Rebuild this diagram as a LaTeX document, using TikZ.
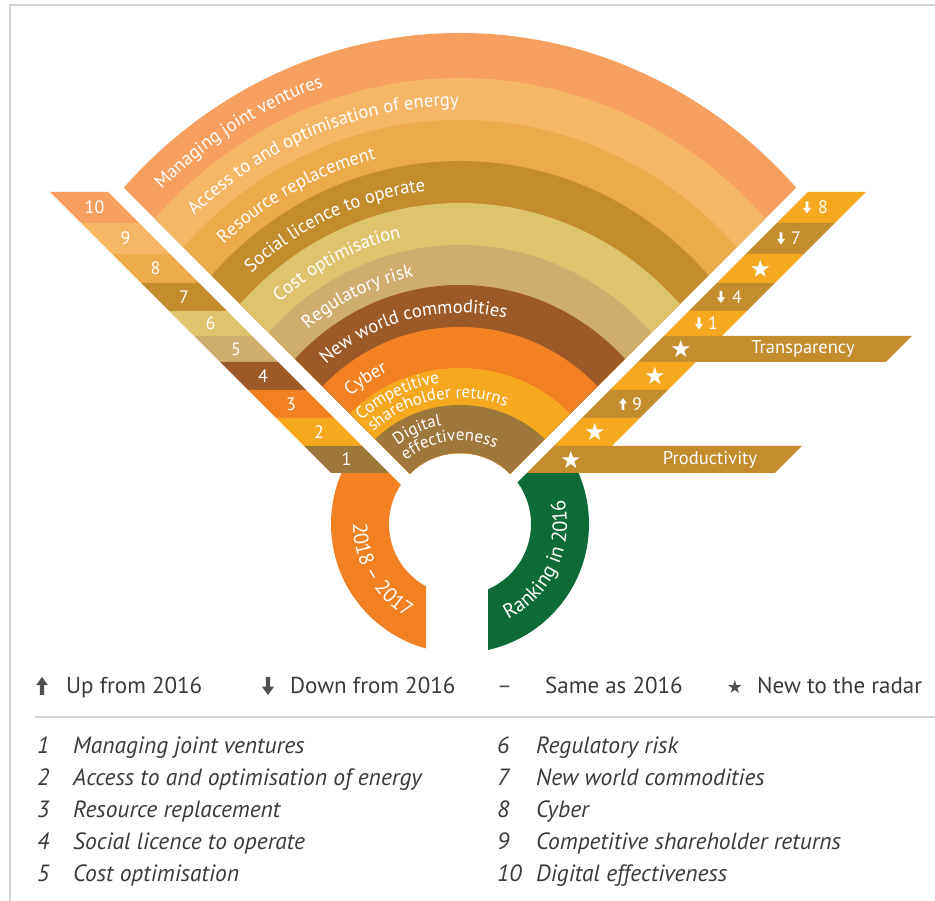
\documentclass[tikz,border=0pt]{standalone}
\usepackage{fontspec}
\setmainfont{PT Sans}
\newfontfamily\symfont{DejaVu Sans}
\usetikzlibrary{decorations.text}

\definecolor{jointorange}{HTML}{F69F5E}
\definecolor{energyorange}{HTML}{F5B766}
\definecolor{resourceorange}{HTML}{EDAA4A}
\definecolor{licencegold}{HTML}{C48C2C}
\definecolor{costyellow}{HTML}{DDC46D}
\definecolor{regtan}{HTML}{CEAE6D}
\definecolor{worldbrown}{HTML}{9E5A26}
\definecolor{cyberorange}{HTML}{F28123}
\definecolor{returnsamber}{HTML}{F6A91F}
\definecolor{digitalbrown}{HTML}{9E773A}
\definecolor{ringgreen}{HTML}{0C6B37}
\definecolor{keygrey}{HTML}{3A3A3A}
\definecolor{markgrey}{HTML}{505050}
\definecolor{framegrey}{HTML}{D4D4D4}

\newcommand{\fanfont}{\fontsize{18.6}{20}\selectfont}
\newcommand{\smallfanfont}{\fontsize{17}{18}\selectfont}
\newcommand{\ringfont}{\fontsize{20.5}{22}\selectfont}

\tikzset{
  fanlabel/.style={decorate, decoration={text along path, text={|\fanfont|#1}, text color=white}},
  smallfanlabel/.style={decorate, decoration={text along path, text={|\smallfanfont|#1}, text color=white}},
  ringlabel/.style={decorate, decoration={text along path, text={|\ringfont|#1}, text color=white, text align=center}},
  barnum/.style={text=white, font=\fontsize{18}{18}\selectfont, inner sep=0pt},
  barstar/.style={text=white, font=\symfont\fontsize{24}{24}\selectfont, inner sep=0pt},
  bartext/.style={text=white, font=\fontsize{18.5}{18}\selectfont, inner sep=0pt},
  keytext/.style={anchor=base west, text=keygrey, font=\fontsize{23}{24}\selectfont, inner sep=0pt},
  listtext/.style={anchor=base west, text=keygrey, font=\itshape\fontsize{23.5}{24}\selectfont, inner sep=0pt},
  downarrow/.pic={\fill (-1.4,6) -- (-1.4,-0.5) -- (-4,-0.5) -- (0,-6) -- (4,-0.5) -- (1.4,-0.5) -- (1.4,6) -- cycle;},
  uparrow/.pic={\fill (-1.4,-6) -- (-1.4,0.5) -- (-4,0.5) -- (0,6) -- (4,0.5) -- (1.4,0.5) -- (1.4,-6) -- cycle;}
}

\begin{document}
\begin{tikzpicture}[x=1pt, y=1pt]
\useasboundingbox (0,0) rectangle (935,901);
\fill[white] (0,0) rectangle (935,901);
\draw[framegrey, line width=2] (9.5,0) -- (9.5,896) -- (935,896);

% ring under the fan
\begin{scope}
  \clip (0,428) -- (389,428) -- (426,391) -- (426,0) -- (0,0) -- cycle;
  \fill[cyberorange, even odd rule] (460,377) circle[radius=129] (460,377) circle[radius=71];
\end{scope}
\begin{scope}
  \clip (935,428) -- (527,428) -- (488,389) -- (488,0) -- (935,0) -- cycle;
  \fill[ringgreen, even odd rule] (460,377) circle[radius=129] (460,377) circle[radius=71];
\end{scope}

% fan of risk bands
\begin{scope}[shift={(460,377)}]
  \clip (135:71) -- (-700,700) -- (700,700) -- (45:71) arc[start angle=45, end angle=135, radius=71] -- cycle;
  \fill[jointorange] (0,0) ellipse[x radius=461.5, y radius=491];
  \fill[energyorange] (0,0) ellipse[x radius=419, y radius=446];
  \fill[resourceorange] (0,0) ellipse[x radius=380, y radius=404];
  \fill[licencegold] (0,0) ellipse[x radius=341, y radius=363];
  \fill[costyellow] (0,0) ellipse[x radius=302, y radius=321];
  \fill[regtan] (0,0) ellipse[x radius=263, y radius=279];
  \fill[worldbrown] (0,0) ellipse[x radius=228, y radius=239];
  \fill[cyberorange] (0,0) ellipse[x radius=192, y radius=197];
  \fill[returnsamber] (0,0) ellipse[x radius=156, y radius=156];
  \fill[digitalbrown] (0,0) ellipse[x radius=121, y radius=119];
\end{scope}

% band and ring labels
\begin{scope}[shift={(460,377)}]
  \path[fanlabel={Managing joint ventures}] (133.5:433 and 461) arc[start angle=133.5, end angle=20, x radius=433, y radius=461];
  \path[fanlabel={Access to and optimisation of energy}] (132.5:393 and 418) arc[start angle=132.5, end angle=20, x radius=393, y radius=418];
  \path[fanlabel={Resource replacement}] (132:353 and 376) arc[start angle=132, end angle=20, x radius=353, y radius=376];
  \path[fanlabel={Social licence to operate}] (131.5:315 and 335) arc[start angle=131.5, end angle=20, x radius=315, y radius=335];
  \path[fanlabel={Cost optimisation}] (131:275 and 293) arc[start angle=131, end angle=20, x radius=275, y radius=293];
  \path[fanlabel={Regulatory risk}] (129.5:239 and 252) arc[start angle=129.5, end angle=20, x radius=239, y radius=252];
  \path[fanlabel={New world commodities}] (131:204 and 211) arc[start angle=131, end angle=10, x radius=204, y radius=211];
  \path[fanlabel={Cyber}] (131:167 and 169) arc[start angle=131, end angle=20, x radius=167, y radius=169];
  \path[smallfanlabel={Competitive}] (133.5:143 and 142) arc[start angle=133.5, end angle=10, x radius=143, y radius=142];
  \path[smallfanlabel={shareholder returns}] (133:127 and 126) arc[start angle=133, end angle=0, x radius=127, y radius=126];
  \path[smallfanlabel={Digital}] (128:101 and 100) arc[start angle=128, end angle=10, x radius=101, y radius=100];
  \path[smallfanlabel={effectiveness}] (130:84 and 83) arc[start angle=130, end angle=0, x radius=84, y radius=83];
  \path[ringlabel={2018 – 2017}] (150:107) arc[start angle=150, end angle=270, radius=107];
  \path[ringlabel={Ranking in 2016}] (-85:107) arc[start angle=-85, end angle=35, radius=107];
\end{scope}

% left bars: 2018-2017 ranks
\fill[jointorange] (50,709) -- (108,709) -- (139,678) -- (81,678) -- cycle;
\fill[energyorange] (81,678) -- (139,678) -- (170,647) -- (112,647) -- cycle;
\fill[resourceorange] (112,647) -- (170,647) -- (199,618) -- (141,618) -- cycle;
\fill[licencegold] (141,618) -- (199,618) -- (227,590) -- (169,590) -- cycle;
\fill[costyellow] (169,590) -- (227,590) -- (252,565) -- (194,565) -- cycle;
\fill[regtan] (194,565) -- (252,565) -- (278,539) -- (220,539) -- cycle;
\fill[worldbrown] (220,539) -- (278,539) -- (306,511) -- (248,511) -- cycle;
\fill[cyberorange] (248,511) -- (306,511) -- (334,483) -- (276,483) -- cycle;
\fill[returnsamber] (276,483) -- (334,483) -- (362,455) -- (304,455) -- cycle;
\fill[digitalbrown] (304,455) -- (362,455) -- (389,428) -- (331,428) -- cycle;
\node[barnum] (rankten) at (94.5,693.5) {10};
\node[barnum] (ranknine) at (125.5,662.5) {9};
\node[barnum] (rankeight) at (155.5,632.5) {8};
\node[barnum] (rankseven) at (184,604) {7};
\node[barnum] (ranksix) at (210.5,577.5) {6};
\node[barnum] (rankfive) at (236,552) {5};
\node[barnum] (rankfour) at (263,525) {4};
\node[barnum] (rankthree) at (291,497) {3};
\node[barnum] (ranktwo) at (319,469) {2};
\node[barnum] (rankone) at (346.5,441.5) {1};

% right bars: 2016 ranks
\fill[returnsamber] (808,709) -- (866,709) -- (835,678) -- (777,678) -- cycle;
\fill[licencegold] (777,678) -- (835,678) -- (804,647) -- (746,647) -- cycle;
\fill[returnsamber] (746,647) -- (804,647) -- (775,618) -- (717,618) -- cycle;
\fill[licencegold] (717,618) -- (775,618) -- (747,590) -- (689,590) -- cycle;
\fill[returnsamber] (689,590) -- (747,590) -- (722,565) -- (664,565) -- cycle;
\fill[licencegold] (664,565) -- (912,565) -- (886,539) -- (638,539) -- cycle;
\fill[returnsamber] (638,539) -- (696,539) -- (668,511) -- (610,511) -- cycle;
\fill[licencegold] (610,511) -- (668,511) -- (640,483) -- (582,483) -- cycle;
\fill[returnsamber] (582,483) -- (640,483) -- (612,455) -- (554,455) -- cycle;
\fill[licencegold] (554,455) -- (802,455) -- (775,428) -- (527,428) -- cycle;
\node[barnum] (oldeight) at (823,693.5) {8};
\pic[white] at (807,693.5) {downarrow};
\node[barnum] (oldseven) at (796,662.5) {7};
\pic[white] at (781,662.5) {downarrow};
\node[barstar] (newthree) at (760.5,632.5) {★};
\node[barnum] (oldfour) at (737,604) {4};
\pic[white] at (721,604) {downarrow};
\node[barnum] (oldone) at (713,577.5) {1};
\pic[white] at (699,577.5) {downarrow};
\node[barstar] (newsix) at (681,552) {★};
\node[bartext] (transparency) at (803,552) {Transparency};
\node[barstar] (newseven) at (655,525) {★};
\node[barnum] (oldnine) at (637,497) {9};
\pic[white] at (623,497) {uparrow};
\node[barstar] (newnine) at (595,469) {★};
\node[barstar] (newten) at (571,441.5) {★};
\node[bartext] (productivity) at (710,441.5) {Productivity};

% key
\pic[markgrey, scale=1.5] at (42,215) {uparrow};
\node[keytext] (upkey) at (66,207) {Up from 2016};
\pic[markgrey, scale=1.5] at (268,215) {downarrow};
\node[keytext] (downkey) at (290,207) {Down from 2016};
\node[keytext, text=markgrey] (samemark) at (497,207) {–};
\node[keytext] (samekey) at (545,207) {Same as 2016};
\node[text=markgrey, font=\symfont\fontsize{18}{18}\selectfont, inner sep=0pt] (newmark) at (735,214) {★};
\node[keytext] (newkey) at (757,207) {New to the radar};
\draw[framegrey, line width=1.5] (35,184) -- (935,184);

% numbered list of risks
\node[listtext] (itemone) at (37,147) {1};
\node[listtext] (textone) at (73,147) {Managing joint ventures};
\node[listtext] (itemtwo) at (37,115) {2};
\node[listtext] (texttwo) at (73,115) {Access to and optimisation of energy};
\node[listtext] (itemthree) at (37,83) {3};
\node[listtext] (textthree) at (73,83) {Resource replacement};
\node[listtext] (itemfour) at (37,51) {4};
\node[listtext] (textfour) at (73,51) {Social licence to operate};
\node[listtext] (itemfive) at (37,19) {5};
\node[listtext] (textfive) at (73,19) {Cost optimisation};
\node[listtext] (itemsix) at (497,147) {6};
\node[listtext] (textsix) at (536,147) {Regulatory risk};
\node[listtext] (itemseven) at (497,115) {7};
\node[listtext] (textseven) at (536,115) {New world commodities};
\node[listtext] (itemeight) at (497,83) {8};
\node[listtext] (texteight) at (536,83) {Cyber};
\node[listtext] (itemnine) at (497,51) {9};
\node[listtext] (textnine) at (536,51) {Competitive shareholder returns};
\node[listtext] (itemten) at (497,19) {10};
\node[listtext] (textten) at (536,19) {Digital effectiveness};
\end{tikzpicture}
\end{document}
